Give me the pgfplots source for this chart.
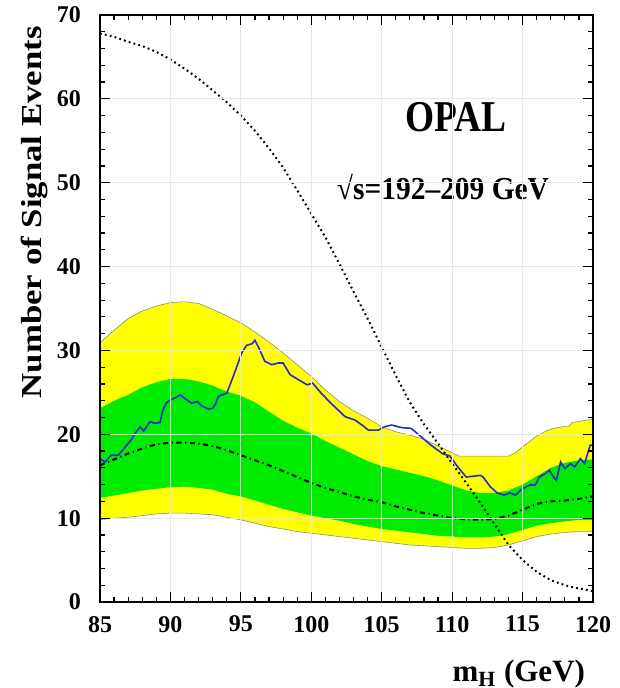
\documentclass[border=0pt]{standalone}
\usepackage{fontspec}
\setmainfont{Liberation Serif}
\usepackage{graphicx}
\usepackage{pgfplots}
\usepackage{pgfplotstable}
\pgfplotsset{compat=1.18}
\usepgfplotslibrary{fillbetween}
\definecolor{bandyellow}{RGB}{255,255,0}
\definecolor{bandgreen}{RGB}{0,235,0}
\definecolor{obsblue}{RGB}{40,40,215}

\pgfplotstableread{
x y
85 30.9
86 32.4
87 33.8
88 34.7
89 35.3
90 35.7
91 35.8
92 35.6
93 34.9
94 34.1
95 33.3
96 32.2
97 31.0
98 29.7
99 28.3
100 26.9
101 25.3
102 23.9
103 22.8
104 21.9
105 20.9
106 20.3
107 19.9
108 19.4
109 18.6
110 17.8
110.5 17.4
114 17.4
114.5 17.8
115 18.5
116 19.8
116.8 20.5
117.5 20.8
118.3 21.0
118.5 21.4
120 21.8
}\yu

\pgfplotstableread{
x y
85 9.8
86 10.0
87 10.1
88 10.3
89 10.5
90 10.6
91 10.6
92 10.5
93 10.4
94 10.1
95 9.8
96 9.4
97 9.0
98 8.7
99 8.4
100 8.2
101 8.0
102 7.8
103 7.6
104 7.4
105 7.2
106 7.0
107 6.8
108 6.7
109 6.6
110 6.5
111 6.4
112 6.4
113 6.5
114 6.8
115 7.3
116 7.8
117 8.1
118 8.3
119 8.4
120 8.4
}\yl

\pgfplotstableread{
x y
85 23.1
86 24.0
87 24.7
88 25.6
89 26.2
90 26.6
91 26.6
92 26.3
93 25.8
94 25.1
95 24.6
96 23.8
97 22.7
98 21.6
99 20.8
100 20.1
101 19.2
102 18.4
103 17.6
104 16.8
105 16.2
106 15.8
107 15.4
108 15.0
109 14.5
110 13.9
111 13.3
112 13.0
113 13.0
114 13.3
115 14.0
116 15.0
117 16.0
118 16.6
119 16.9
120 17.0
}\gu

\pgfplotstableread{
x y
85 12.4
86 12.7
87 13.0
88 13.3
89 13.5
90 13.7
91 13.75
92 13.6
93 13.4
94 12.9
95 12.6
96 12.1
97 11.6
98 11.1
99 10.7
100 10.3
101 10.0
102 9.7
103 9.3
104 9.0
105 8.7
106 8.5
107 8.3
108 8.1
109 7.9
110 7.8
111 7.7
112 7.7
113 7.8
114 8.1
115 8.6
116 9.1
117 9.4
118 9.6
119 9.8
120 9.8
}\gl

\pgfplotstableread{
x y
85 16.3
86 17.0
87 17.7
88 18.3
89 18.8
90 19.0
91 19.0
92 18.9
93 18.6
94 18.1
95 17.5
96 16.9
97 16.3
98 15.6
99 14.9
100 14.2
101 13.6
102 13.1
103 12.6
104 12.2
105 11.9
106 11.4
107 11.0
108 10.6
109 10.3
110 10.0
111 9.85
112 9.8
113 9.9
114 10.3
115 11.0
116 11.7
117 12.0
118 12.1
119 12.3
120 12.6
}\med

\pgfplotstableread{
x y
85 67.8
86 67.4
87 66.8
88 66.3
89 65.6
90 64.7
91 63.6
92 62.4
93 61.0
94 59.6
95 58.0
96 56.2
97 54.1
98 51.8
99 49.1
100 46.3
101 43.5
102 40.3
103 37.0
104 33.8
105 30.4
106 27.0
107 23.8
108 21.2
109 18.9
110 16.5
111 14.2
112 11.8
113 9.3
114 6.8
115 5.0
116 3.6
117 2.6
118 2.0
119 1.6
120 1.3
}\sig

\pgfplotstableread{
x y
85 17.1
85.35 16.7
85.8 17.5
86.3 17.5
86.8 18.5
87.2 19.3
87.5 20.1
87.84 20.9
88.1 20.4
88.55 21.5
88.9 21.3
89.26 21.4
89.45 22.8
89.7 23.7
90.0 24.1
90.4 24.4
90.7 24.7
91.0 24.3
91.5 23.7
91.9 23.9
92.2 23.4
92.7 23.0
93.0 23.1
93.2 23.6
93.4 24.5
93.64 24.7
94.0 24.9
94.46 26.9
95.06 29.7
95.4 30.6
95.8 30.8
96.0 31.2
96.36 30.0
96.7 28.7
97.2 28.3
97.66 28.5
98.0 28.5
98.5 27.1
99.1 26.5
99.7 25.9
100.1 26.1
100.7 24.9
101.4 23.7
102.4 22.1
103.1 21.7
103.6 21.1
104.05 20.5
104.76 20.5
105.2 20.9
105.7 21.1
106.4 20.8
107.1 20.7
107.8 19.7
108.5 18.7
109.3 17.7
109.85 17.4
110.4 16.1
110.9 15.1
111.0 14.9
112.0 15.1
112.2 14.9
112.7 13.75
113.2 13.0
113.7 12.75
114.1 13.0
114.5 12.75
114.9 13.4
115.5 13.95
115.9 13.95
116.2 14.9
116.6 15.3
116.9 15.7
117.2 14.9
117.4 14.5
117.7 16.7
118.0 15.9
118.4 16.5
118.7 16.1
119.1 17.1
119.4 16.5
119.8 18.7
120 18.7
}\obs

\begin{document}
\begin{tikzpicture}
\begin{axis}[
  at={(50pt,43pt)}, anchor=south west,
  scale only axis, width=246.5pt, height=293.5pt,
  xmin=85, xmax=120, ymin=0, ymax=70,
  xtick={85,90,...,120}, ytick={0,10,...,70},
  minor x tick num=4, minor y tick num=4,
  tick align=inside,
  major tick length=5pt, minor tick length=2.5pt,
  grid=major, major grid style={gray!18, line width=0.4pt},
  axis line style={line width=1pt},
  every tick/.append style={black, line width=0.6pt},
  /pgf/number format/assume math mode=true,
  tick label style={font=\fontsize{12}{14}\selectfont\bfseries},
  yticklabel style={xshift=-6pt},
  xticklabel style={yshift=-3.5pt},
  xlabel={m\textsubscript{H} (GeV)},
  xlabel style={at={(axis description cs:0.998,-0.136)}, anchor=base east, font=\fontsize{15.5}{18}\selectfont\bfseries},
  ylabel={\scalebox{1.2}[1]{Number of Signal Events}},
  ylabel style={at={(axis description cs:-0.132,0.664)}, anchor=center, font=\fontsize{14.5}{17}\selectfont\bfseries},
  axis on top,
]
\addplot[draw=none, name path=yu] table {\yu};
\addplot[draw=none, name path=yl] table {\yl};
\addplot[fill=bandyellow, draw=none] fill between[of=yu and yl];
\addplot[draw=none, name path=gu] table {\gu};
\addplot[draw=none, name path=gl] table {\gl};
\addplot[fill=bandgreen, draw=none] fill between[of=gu and gl];
\addplot[black!45, line width=0.3pt] table {\yu};
\addplot[black!45, line width=0.3pt] table {\yl};
\addplot[black, line width=1pt, dash pattern=on 2.5pt off 1.8pt on 0.6pt off 1.8pt] table {\med};
\addplot[black, line width=1pt, dash pattern=on 0.9pt off 1.6pt] table {\sig};
\addplot[obsblue, line width=0.8pt] table {\obs};
\end{axis}
\begin{axis}[
  at={(50pt,43pt)}, anchor=south west,
  scale only axis, width=246.5pt, height=293.5pt,
  xmin=85, xmax=120, ymin=0, ymax=70,
  hide axis,
]
\node[font=\fontsize{22}{26}\selectfont\bfseries, fill=white, inner sep=1pt] at (axis cs:110.27,57.78) {\scalebox{0.85}[1]{OPAL}};
\node[font=\fontsize{16}{19}\selectfont\bfseries, fill=white, inner sep=1pt] at (axis cs:109.35,49.43) {\scalebox{0.92}[1]{√s=192–209 GeV}};
\end{axis}
\pgfresetboundingbox
\path[use as bounding box] (0,0) rectangle (309.5pt,344pt);
\end{tikzpicture}
\end{document}
